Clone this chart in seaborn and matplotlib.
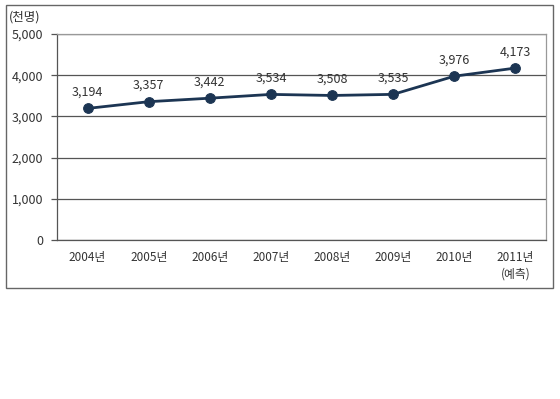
import matplotlib
matplotlib.use("Agg")
import matplotlib.pyplot as plt
import seaborn as sns
import pandas as pd
from matplotlib.patches import Rectangle

years = ["2004년", "2005년", "2006년", "2007년", "2008년", "2009년", "2010년", "2011년\n(예측)"]
values = [3194, 3357, 3442, 3534, 3508, 3535, 3976, 4173]
yticks = [0, 1000, 2000, 3000, 4000, 5000]

sns.set_style("white")
plt.rcParams['font.family'] = ['Noto Sans CJK KR', 'DejaVu Sans']

df = pd.DataFrame({"year": years, "value": values})
line_color = "#1c3553"

fig = plt.figure(figsize=(5.6, 3.99), dpi=100)
W, H = 560, 399
ax = fig.add_axes([57 / W, 1 - 240 / H, (546 - 57) / W, (240 - 34) / H])

pos = list(range(len(years)))
df["pos"] = pos
sns.lineplot(data=df, x="pos", y="value", ax=ax, color=line_color, linewidth=2,
             marker="o", markersize=7, markeredgecolor=line_color)

ax.set_xlim(-0.5, len(years) - 0.5)
ax.set_ylim(0, 5000)
ax.set_yticks(yticks)
ax.set_yticklabels([f"{v:,}" for v in yticks])
ax.set_xticks(pos)
ax.set_xticklabels(years, va="top", linespacing=1.3)
ax.yaxis.grid(True, color="#555555", linewidth=0.9)
ax.set_axisbelow(True)
ax.set_xlabel("")
ax.set_ylabel("")

for s in ["top", "right"]:
    ax.spines[s].set_color("#999999")
    ax.spines[s].set_linewidth(0.9)
for s in ["left", "bottom"]:
    ax.spines[s].set_color("#555555")
    ax.spines[s].set_linewidth(0.9)

ax.tick_params(axis="y", length=4, width=0.9, color="#555555", labelsize=9,
               labelcolor="#333333", left=True, pad=6)
ax.tick_params(axis="x", length=0, labelsize=8.5, labelcolor="#333333", pad=8)

for p, v in zip(pos, values):
    ax.annotate(f"{v:,}", (p, v), xytext=(0, 7), textcoords="offset points",
                ha="center", va="bottom", fontsize=9, color="#333333")

fig.text(9 / W, 1 - 17 / H, "(천명)", fontsize=9, color="#333333", va="center")

fig.patches.append(Rectangle((6 / W, 1 - 288 / H), (553 - 6) / W, (288 - 5) / H,
                             transform=fig.transFigure, fill=False,
                             edgecolor="#666666", linewidth=1))

fig.savefig("out.png", dpi=100)
